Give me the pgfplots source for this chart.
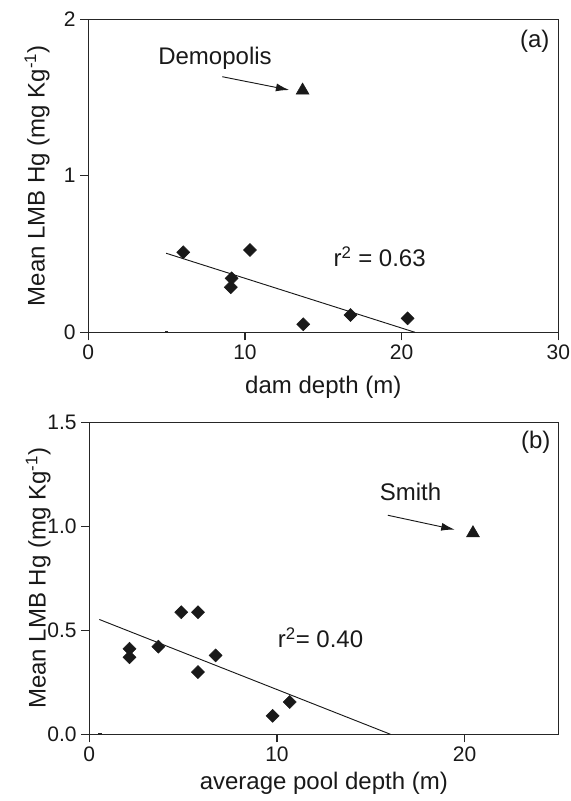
\documentclass[border=0pt]{standalone}
\usepackage{fontspec}
\setmainfont{Liberation Sans}
\usepackage{pgfplots}
\pgfplotsset{compat=1.18}
\usetikzlibrary{arrows.meta}

\pgfplotsset{
  myax/.style={
    scale only axis,
    axis line style={line width=0.9pt, black!85},
    tick style={line width=0.9pt, black!85},
    tick align=outside,
    major tick length=6pt,
    tick pos=left,
    minor tick num=0,
    /pgf/number format/assume math mode=true,
    ticklabel style={font=\fontsize{15.75}{18}\selectfont, text=black!90},
    label style={font=\fontsize{18}{21}\selectfont, text=black!90},
  },
  dia/.style={only marks, mark=square*, mark size=3.45pt,
    mark options={rotate=45, fill=black!90, draw=black!90}},
  tri/.style={only marks, mark=triangle*, mark size=5.6pt,
    mark options={fill=black!90, draw=black!90}},
  reg/.style={no marks, line width=0.7pt, black!90},
}

\begin{document}
\begin{tikzpicture}
\path[use as bounding box] (0pt,0pt) rectangle (428.25pt,-600.75pt);

% Panel (a)
\begin{axis}[myax,
  at={(66.2pt,-249.2pt)}, anchor=south west,
  width=352.5pt, height=234.75pt,
  xmin=0, xmax=30, ymin=0, ymax=2,
  xtick={0,10,20,30}, ytick={0,1,2},
  xlabel={dam depth (m)},
  ylabel={Mean LMB Hg (mg Kg\textsuperscript{-1})},
  xlabel style={at={(axis description cs:0.5,-0.175)}, anchor=center},
  ylabel style={at={(axis description cs:-0.109,0.5)}, anchor=center, rotate=0},
]
\addplot[dia] coordinates {
  (6.06,0.511) (10.32,0.526) (9.15,0.345) (9.10,0.288)
  (13.72,0.051) (16.74,0.110) (20.38,0.089)
};
\addplot[tri] coordinates {(13.68,1.545)};
\addplot[reg] coordinates {(4.97,0.505) (20.85,0)};
\addplot[only marks, mark=-, mark size=1.2pt, mark options={line width=0.8pt, black!85}] coordinates {(5,0.006)};
\draw[line width=0.7pt, black!90, -{Latex[length=10pt,width=6pt]}] (axis cs:8.55,1.633) -- (axis cs:12.83,1.548);
\node[font=\fontsize{18}{21}\selectfont, text=black!90] at (axis cs:8.09,1.751) {Demopolis};
\node[font=\fontsize{18}{21}\selectfont, text=black!90] at (axis cs:18.6,0.483) {r\textsuperscript{2} = 0.63};
\node[font=\fontsize{18}{21}\selectfont, text=black!90] at (axis cs:28.5,1.857) {(a)};
\end{axis}

% Panel (b)
\begin{axis}[myax,
  at={(67pt,-550.7pt)}, anchor=south west,
  width=351.75pt, height=234pt,
  xmin=0, xmax=25, ymin=0, ymax=1.5,
  xtick={0,10,20}, ytick={0,0.5,1,1.5},
  yticklabel style={/pgf/number format/.cd, fixed, fixed zerofill, precision=1},
  xlabel={average pool depth (m)},
  ylabel={Mean LMB Hg (mg Kg\textsuperscript{-1})},
  xlabel style={at={(axis description cs:0.5,-0.156)}, anchor=center},
  ylabel style={at={(axis description cs:-0.109,0.5)}, anchor=center, rotate=0},
]
\addplot[dia] coordinates {
  (2.14,0.411) (2.14,0.370) (3.68,0.421) (4.90,0.587) (5.79,0.587)
  (5.79,0.299) (6.73,0.379) (9.77,0.089) (10.68,0.155)
};
\addplot[tri] coordinates {(20.45,0.967)};
\addplot[reg] coordinates {(0.53,0.552) (16.05,0)};
\addplot[only marks, mark=-, mark size=1.2pt, mark options={line width=0.8pt, black!85}] coordinates {(0.57,0.005)};
\draw[line width=0.7pt, black!90, -{Latex[length=10pt,width=6pt]}] (axis cs:15.91,1.053) -- (axis cs:19.47,0.984);
\node[font=\fontsize{18}{21}\selectfont, text=black!90] at (axis cs:17.12,1.165) {Smith};
\node[font=\fontsize{18}{21}\selectfont, text=black!90] at (axis cs:12.32,0.464) {r\textsuperscript{2}= 0.40};
\node[font=\fontsize{18}{21}\selectfont, text=black!90] at (axis cs:23.8,1.405) {(b)};
\end{axis}
\end{tikzpicture}
\end{document}
